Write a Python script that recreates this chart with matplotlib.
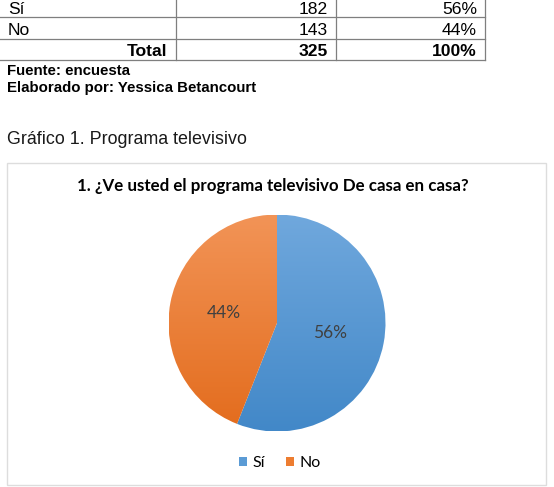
import matplotlib
matplotlib.use("Agg")
import matplotlib.pyplot as plt
import numpy as np
from matplotlib.colors import LinearSegmentedColormap
from matplotlib.patches import Rectangle
from matplotlib.lines import Line2D

W, H = 554, 487

# datos de la tabla y del grafico
respuestas = ["Sí", "No"]
frecuencias = [182, 143]
porcentajes = ["56%", "44%"]
total_frec = 325
total_pct = "100%"
fuente = "Fuente: encuesta"
autor = "Elaborado por: Yessica Betancourt"
caption = "Gráfico 1. Programa televisivo"
titulo = "1. ¿Ve usted el programa televisivo De casa en casa?"

color_top = ["#70a8dd", "#f29457"]
color_bot = ["#4288c8", "#e36c1d"]
color_leyenda = ["#5b9bd5", "#ed7d31"]


def fx(x):
    return x / W


def fy(y):
    return 1 - y / H


fig = plt.figure(figsize=(W / 100, H / 100), dpi=100)
fig.patch.set_facecolor("white")

doc_font = "Liberation Sans"
chart_font = "Lato"

# --- tabla (parte visible) ---
gris = "#7f7f7f"
for y in [17, 39, 60]:
    fig.add_artist(Line2D([fx(0), fx(485)], [fy(y), fy(y)], color=gris, lw=0.9))
for x in [176, 336, 485]:
    fig.add_artist(Line2D([fx(x), fx(x)], [fy(-2), fy(60)], color=gris, lw=0.9))

tsize = 12.6
baselines = [14, 35]
for resp, frec, pct, yb in zip(respuestas, frecuencias, porcentajes, baselines):
    fig.text(fx(8), fy(yb), resp, family=doc_font, fontsize=tsize, va="baseline")
    fig.text(fx(328), fy(yb), str(frec), family=doc_font, fontsize=tsize, va="baseline", ha="right")
    fig.text(fx(477), fy(yb), pct, family=doc_font, fontsize=tsize, va="baseline", ha="right")
fig.text(fx(167), fy(56), "Total", family=doc_font, fontsize=tsize, weight="bold", va="baseline", ha="right")
fig.text(fx(328), fy(56), str(total_frec), family=doc_font, fontsize=tsize, weight="bold", va="baseline", ha="right")
fig.text(fx(477), fy(56), total_pct, family=doc_font, fontsize=tsize, weight="bold", va="baseline", ha="right")

fig.text(fx(7), fy(75), fuente, family=doc_font, fontsize=10.8, weight="bold", va="baseline")
fig.text(fx(7), fy(92), autor, family=doc_font, fontsize=10.8, weight="bold", va="baseline")

fig.text(fx(7), fy(144), caption, family=doc_font, fontsize=12.9, va="baseline", color="#1a1a1a")

# --- marco del grafico ---
fig.add_artist(Rectangle((fx(7), fy(485)), fx(546) - fx(7), fy(163) - fy(485),
                         facecolor="white", edgecolor="#dddddd", lw=1, zorder=-5))

fig.text(fx(273), fy(191), titulo, family=chart_font, fontsize=12.2, weight="bold",
         ha="center", va="baseline", color="#000000")

# --- pastel ---
cx, cy, r = 277, 323, 108.5
ax = fig.add_axes([fx(cx - r), fy(cy + r), (2 * r) / W, (2 * r) / H])
wedges, texts, autotexts = ax.pie(frecuencias, startangle=90, counterclock=False,
                                  autopct="%1.0f%%", pctdistance=0.5,
                                  wedgeprops=dict(linewidth=0),
                                  textprops=dict(family=chart_font, fontsize=12.5, color="#404040"))

grad = np.linspace(0, 1, 256).reshape(-1, 1)
for w, c0, c1 in zip(wedges, color_top, color_bot):
    w.set_facecolor("none")
    cmap = LinearSegmentedColormap.from_list("g", [c0, c1])
    im = ax.imshow(grad, cmap=cmap, extent=[-1, 1, -1, 1], origin="upper",
                   aspect="auto", zorder=0)
    im.set_clip_path(w)
ax.set_xlim(-1, 1)
ax.set_ylim(-1, 1)
ax.axis("off")

# --- leyenda ---
handles = [Rectangle((0, 0), 1, 1, facecolor=c) for c in color_leyenda]
fig.legend(handles, respuestas, loc="center", bbox_to_anchor=(fx(280), fy(463)),
           ncol=2, frameon=False, handlelength=0.5, handleheight=0.5,
           handletextpad=0.35, columnspacing=1.3,
           prop=dict(family=chart_font, size=11.5))

fig.savefig("out.png", dpi=100)
